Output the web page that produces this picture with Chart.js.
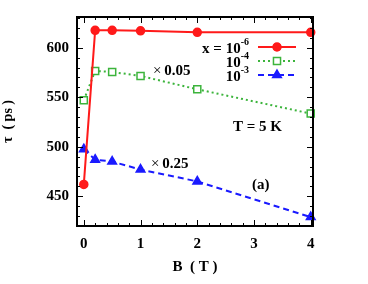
<!DOCTYPE html>
<html>
<head>
<meta charset="utf-8">
<script src="https://cdn.jsdelivr.net/npm/chart.js@4/dist/chart.umd.min.js"></script>
<style>
  html, body { margin: 0; padding: 0; background: #fff; }
  canvas { display: block; }
</style>
</head>
<body>
<canvas id="tauChart" width="368" height="284"></canvas>
<script>
// magnetic field B (T) and lifetime tau (ps) for three concentrations
const bField = [0, 0.2, 0.5, 1, 2, 4];
const tauX6 = [462, 617.5, 617.5, 617, 615.5, 615.5];
const tauX4 = [547, 576.5, 575.5, 571.5, 558, 533.5];
const tauX3 = [497.5, 487, 485, 477, 465, 429];

const xTicks = [0, 1, 2, 3, 4];
const yTicks = [450, 500, 550, 600];

const serif = "'Liberation Serif', 'Times New Roman', serif";
const red = "#ff1a1a";
const green = "#3cb43c";
const blue = "#1a1aff";

const toPoints = (ys) => bField.map((b, i) => ({ x: b, y: ys[i] }));

const series = [
    { exp: "-6", prefix: "x = 10", data: tauX6, color: red, style: "circle", dash: [], fill: red },
    { exp: "-4", prefix: "10", data: tauX4, color: green, style: "rect", dash: [2, 3], fill: "#ffffff" },
    { exp: "-3", prefix: "10", data: tauX3, color: blue, style: "triangle", dash: [6, 4], fill: blue }
];

const markerRadius = { circle: 4, rect: 5, triangle: 5 };

// inside ticks on all four sides + frame, legend and labels
const decorations = {
    id: "decorations",
    afterDraw(chart) {
        const ctx = chart.ctx;
        const a = chart.chartArea;
        const xs = chart.scales.x, ys = chart.scales.y;
        ctx.save();
        ctx.strokeStyle = "#000";
        ctx.lineWidth = 1;
        ctx.beginPath();
        for (let v = 0; v <= 4.001; v += 0.2) {
            const px = Math.round(xs.getPixelForValue(v)) + 0.5;
            const len = Math.abs(v - Math.round(v)) < 1e-6 ? 6 : 3;
            ctx.moveTo(px, a.bottom); ctx.lineTo(px, a.bottom - len);
            ctx.moveTo(px, a.top); ctx.lineTo(px, a.top + len);
        }
        for (let v = 430; v <= 630; v += 10) {
            const py = Math.round(ys.getPixelForValue(v)) + 0.5;
            const len = v % 50 === 0 ? 6 : 3;
            ctx.moveTo(a.left, py); ctx.lineTo(a.left + len, py);
            ctx.moveTo(a.right, py); ctx.lineTo(a.right - len, py);
        }
        ctx.stroke();
        ctx.lineWidth = 2;
        ctx.strokeRect(a.left, a.top, a.right - a.left, a.bottom - a.top);

        // legend
        const rowsY = [47, 61, 75];
        const textRight = 249;
        series.forEach((s, i) => {
            const y = rowsY[i];
            ctx.font = "bold 10px " + serif;
            const ew = ctx.measureText(s.exp).width;
            ctx.font = "bold 15px " + serif;
            const pw = ctx.measureText(s.prefix).width;
            ctx.fillStyle = "#000";
            ctx.textBaseline = "middle";
            ctx.textAlign = "left";
            ctx.fillText(s.prefix, textRight - ew - pw, y + 2);
            ctx.font = "bold 10px " + serif;
            ctx.fillText(s.exp, textRight - ew, y - 5);

            ctx.strokeStyle = s.color;
            ctx.lineWidth = 2;
            ctx.setLineDash(s.dash);
            ctx.beginPath();
            ctx.moveTo(258, y);
            ctx.lineTo(296, y);
            ctx.stroke();
            ctx.setLineDash([]);
            ctx.fillStyle = s.fill;
            ctx.lineWidth = 1.5;
            Chart.helpers.drawPoint(ctx, { pointStyle: s.style, radius: markerRadius[s.style], rotation: 0, borderWidth: 1.5 }, 277, y);
            if (s.style !== "rect") ctx.fill();
        });

        // annotations
        const note = (x, y, times, text) => {
            ctx.fillStyle = "#000";
            ctx.textBaseline = "middle";
            ctx.textAlign = "left";
            let cx = x;
            if (times) {
                ctx.font = "15px " + serif;
                ctx.fillText("\u00d7", cx, y);
                cx += ctx.measureText("\u00d7 ").width - 1;
            }
            ctx.font = "bold 15px " + serif;
            ctx.fillText(text, cx, y);
        };
        note(153, 71, true, "0.05");
        note(151, 164, true, "0.25");
        note(233, 127, false, "T = 5 K");
        note(252, 185, false, "(a)");
        ctx.restore();
    }
};

new Chart(document.getElementById("tauChart"), {
    type: "line",
    data: {
        datasets: series.map((s) => ({
            data: toPoints(s.data),
            borderColor: s.color,
            borderWidth: 2,
            borderDash: s.dash,
            pointStyle: s.style,
            pointRadius: markerRadius[s.style],
            pointBorderWidth: 1.5,
            pointBorderColor: s.color,
            pointBackgroundColor: s.fill,
            tension: 0,
            clip: false
        }))
    },
    options: {
        responsive: false,
        animation: false,
        devicePixelRatio: 1,
        layout: { padding: { left: 0, right: 55, top: 16, bottom: 0 } },
        plugins: {
            legend: { display: false },
            tooltip: { enabled: false }
        },
        scales: {
            x: {
                type: "linear",
                min: -0.12,
                max: 4.04,
                afterBuildTicks: (s) => { s.ticks = xTicks.map((v) => ({ value: v })); },
                afterFit: (s) => { s.height = 58; },
                grid: { display: false, drawTicks: false },
                border: { display: false },
                ticks: { color: "#000", padding: 9, font: { family: serif, size: 15, weight: "bold" } },
                title: {
                    display: true,
                    text: "B  ( T )",
                    color: "#000",
                    padding: { top: 0, bottom: 8 },
                    font: { family: serif, size: 15, weight: "bold" }
                }
            },
            y: {
                min: 420,
                max: 631,
                afterBuildTicks: (s) => { s.ticks = yTicks.map((v) => ({ value: v })); },
                afterFit: (s) => { s.width = 77; },
                grid: { display: false, drawTicks: false },
                border: { display: false },
                ticks: { color: "#000", padding: 8, font: { family: serif, size: 15, weight: "bold" } },
                title: {
                    display: true,
                    text: "\u03c4  ( ps )",
                    color: "#000",
                    padding: { top: 0, bottom: 0 },
                    font: { family: serif, size: 14, weight: "bold" }
                }
            }
        }
    },
    plugins: [decorations]
});
</script>
</body>
</html>
